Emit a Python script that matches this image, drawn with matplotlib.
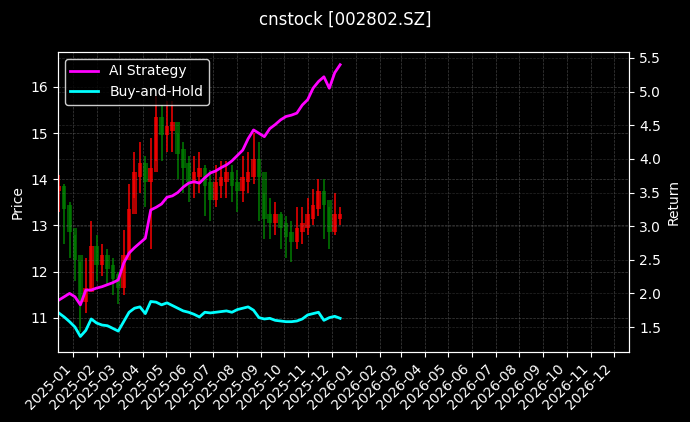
import matplotlib
matplotlib.use("Agg")
import matplotlib.pyplot as plt
import matplotlib.dates as mdates
import pandas as pd

# weekly samples
dates = pd.date_range("2024-12-13", periods=53, freq="7D")
close = [13.8, 13.4, 12.9, 12.3, 11.4, 11.6, 12.5, 12.2, 12.3, 12.1, 11.9, 11.7, 12.3,
         13.3, 14.1, 14.3, 14.0, 14.2, 15.3, 15.0, 15.1, 15.2, 14.6, 14.3, 14.0, 14.1,
         14.2, 13.9, 13.6, 13.9, 14.0, 14.1, 13.9, 13.8, 14.0, 14.1, 14.4, 14.1, 13.2,
         13.1, 13.2, 13.0, 12.8, 12.7, 12.9, 13.0, 13.2, 13.4, 13.7, 13.5, 12.9, 13.2, 13.2]
high = [14.1, 13.9, 13.5, 12.8, 12.2, 12.3, 13.1, 12.8, 12.6, 12.5, 12.3, 12.0, 12.9,
        13.9, 14.6, 14.8, 14.5, 14.9, 15.8, 15.6, 15.7, 15.7, 15.0, 14.8, 14.5, 14.5,
        14.6, 14.3, 14.2, 14.3, 14.4, 14.4, 14.3, 14.2, 14.5, 14.6, 15.0, 14.8, 13.7,
        13.6, 13.5, 13.3, 13.2, 13.1, 13.4, 13.4, 13.6, 13.8, 14.0, 14.0, 13.4, 13.7, 13.4]
low = [13.3, 12.6, 12.3, 11.8, 10.7, 11.1, 11.6, 11.8, 11.9, 11.7, 11.5, 11.3, 11.5,
       12.4, 13.6, 13.7, 13.4, 12.5, 14.4, 14.4, 14.6, 14.6, 14.0, 13.7, 13.5, 13.6,
       13.7, 13.2, 13.1, 13.4, 13.6, 13.6, 13.5, 13.3, 13.5, 13.7, 13.9, 13.1, 12.7,
       12.7, 12.8, 12.5, 12.3, 12.2, 12.5, 12.6, 12.8, 13.0, 13.2, 12.7, 12.5, 12.8, 13.0]
ai_strategy = [1.90, 1.95, 2.00, 1.95, 1.83, 2.05, 2.05, 2.08, 2.10, 2.13, 2.16, 2.20, 2.45,
               2.60, 2.68, 2.75, 2.82, 3.24, 3.28, 3.33, 3.43, 3.45, 3.50, 3.58, 3.64, 3.66,
               3.64, 3.72, 3.79, 3.82, 3.87, 3.91, 3.97, 4.05, 4.13, 4.30, 4.43, 4.38, 4.33,
               4.45, 4.51, 4.58, 4.63, 4.65, 4.68, 4.80, 4.88, 5.05, 5.15, 5.22, 5.05, 5.28, 5.40]
buy_hold = [1.71, 1.65, 1.58, 1.50, 1.36, 1.45, 1.62, 1.56, 1.53, 1.52, 1.48, 1.44, 1.58,
            1.72, 1.78, 1.80, 1.70, 1.88, 1.87, 1.83, 1.86, 1.82, 1.78, 1.74, 1.72, 1.69,
            1.65, 1.72, 1.71, 1.72, 1.73, 1.74, 1.72, 1.76, 1.78, 1.80, 1.75, 1.64, 1.62,
            1.63, 1.60, 1.59, 1.58, 1.58, 1.59, 1.62, 1.68, 1.70, 1.72, 1.60, 1.64, 1.66, 1.63]

plt.style.use("dark_background")
fig = plt.figure(figsize=(6.9, 4.22), dpi=100)
ax = fig.add_axes([0.084, 0.166, 0.828, 0.711])
ax2 = ax.twinx()

opens = [close[0]] + close[:-1]
for d, o, c, h, l in zip(dates, opens, close, high, low):
    col = "red" if c >= o else "green"
    ax.vlines(d, l, h, color=col, linewidth=1.2, alpha=0.9)
    ax.bar(d, abs(c - o) + 0.1, bottom=min(o, c) - 0.05, width=6, color=col, alpha=0.7)

ax2.plot(dates, ai_strategy, color="magenta", linewidth=2, label="AI Strategy")
ax2.plot(dates, buy_hold, color="cyan", linewidth=2, label="Buy-and-Hold")

ax.set_xlim(pd.Timestamp("2024-12-12"), pd.Timestamp("2026-12-21"))
ax.set_ylim(10.26, 16.76)
ax2.set_ylim(1.13, 5.59)
ax.set_ylabel("Price")
ax2.set_ylabel("Return")
ax.xaxis.set_major_locator(mdates.MonthLocator())
ax.xaxis.set_major_formatter(mdates.DateFormatter("%Y-%m"))
for lab in ax.get_xticklabels():
    lab.set_rotation(45)
    lab.set_ha("right")
ax.grid(True, linestyle="--", linewidth=0.5, color="gray", alpha=0.5)
ax2.grid(True, linestyle="--", linewidth=0.5, color="gray", alpha=0.3)
ax2.legend(loc="upper left", facecolor="black", edgecolor="white")
fig.suptitle("cnstock [002802.SZ]", y=0.975)

fig.savefig("out.png", dpi=100)
